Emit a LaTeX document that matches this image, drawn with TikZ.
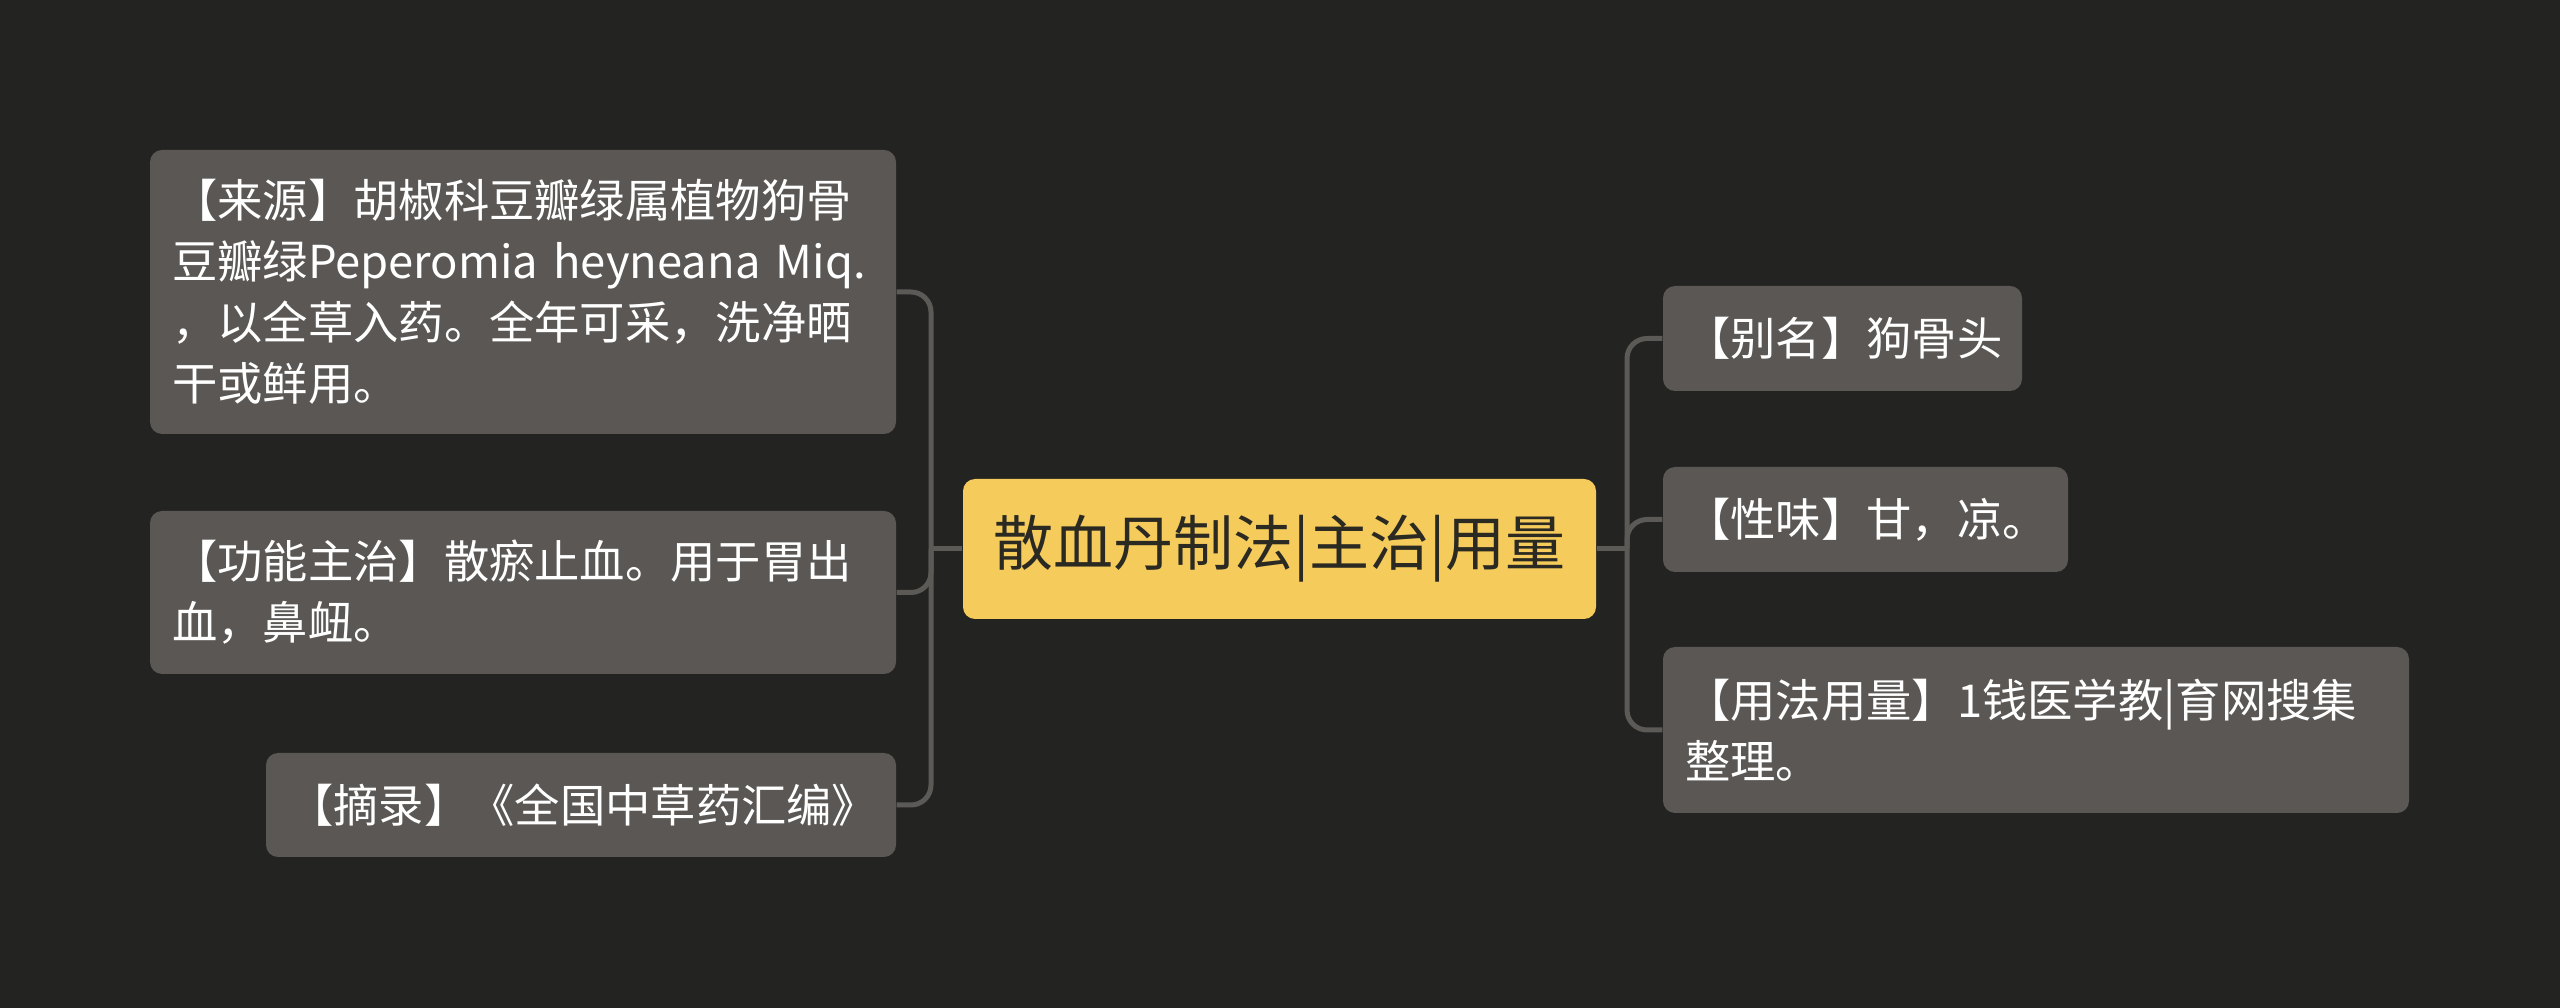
\documentclass[tikz,border=0pt]{standalone}
\usepackage{fontspec}
\usepackage{xcolor}
\usepackage{tikz}
\newfontfamily\cjk{Noto Sans CJK SC}
\definecolor{bgdark}{HTML}{232321}
\definecolor{leafgray}{HTML}{5A5754}
\definecolor{linkgray}{HTML}{5C5A57}
\definecolor{rootyellow}{HTML}{F5CB5C}
\definecolor{roottext}{HTML}{2B2A22}
\tikzset{
  leaf/.style={fill=leafgray, rounded corners=3.6pt, text=white, inner xsep=6.6pt, inner ysep=0pt,
    align=left, font=\cjk\fontsize{13.6}{18.3}\selectfont},
  root/.style={fill=rootyellow, rounded corners=3.6pt, text=roottext, inner sep=0pt,
    minimum width=189.9pt, minimum height=42pt, font=\cjk\fontsize{18}{20}\selectfont},
  link/.style={draw=linkgray, line width=1.5pt, rounded corners=6pt}
}

\begin{document}
\begin{tikzpicture}[x=0.3pt, y=-0.3pt]
\fill[bgdark] (0,0) rectangle (2560,1008);
\useasboundingbox (0,0) rectangle (2560,1008);
% centre
\node[root] (root) at (1279.5,549) {散血丹制法|主治|用量};
% left side
\node[leaf, text width=210.6pt, minimum height=85.2pt] (source) at (523,292)
  {【来源】胡椒科豆瓣绿属植物狗骨\\豆瓣绿Peperomia heyneana Miq.\\，以全草入药。全年可采，洗净晒\\干或鲜用。};
\node[leaf, text width=210.6pt, minimum height=48.9pt] (effect) at (523,592.5)
  {【功能主治】散瘀止血。用于胃出\\血，鼻衄。};
\node[leaf, text width=175.8pt, minimum height=31.2pt] (excerpt) at (581,805)
  {【摘录】《全国中草药汇编》};
% right side
\node[leaf, text width=94.5pt, minimum height=31.5pt] (alias) at (1842.5,338.5)
  {【别名】狗骨头};
\node[leaf, text width=108.3pt, minimum height=31.5pt] (nature) at (1865.5,519.5)
  {【性味】甘，凉。};
\node[leaf, text width=210.6pt, minimum height=49.8pt] (dosage) at (2036,730)
  {【用法用量】1钱医学教|育网搜集\\整理。};
% connectors
\coordinate (ljoin) at (931,549);
\coordinate (rjoin) at (1627,549);
\draw[link] (root.west) -- (ljoin);
\foreach \n in {source,effect,excerpt}
  \draw[link] (ljoin) |- (\n.east);
\draw[link] (root.east) -- (rjoin);
\foreach \n in {alias,nature,dosage}
  \draw[link] (rjoin) |- (\n.west);
\end{tikzpicture}
\end{document}
